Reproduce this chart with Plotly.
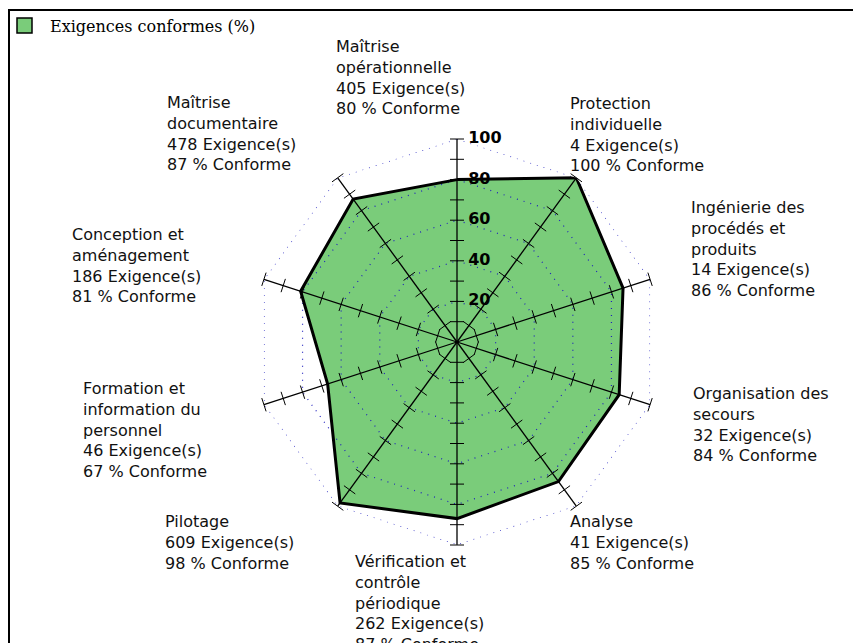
import plotly.graph_objects as go

# Données (sens horaire en partant du haut)
categories = [
    "Maîtrise opérationnelle",
    "Protection individuelle",
    "Ingénierie des procédés et produits",
    "Organisation des secours",
    "Analyse",
    "Vérification et contrôle périodique",
    "Pilotage",
    "Formation et information du personnel",
    "Conception et aménagement",
    "Maîtrise documentaire",
]
label_names = [
    "Maîtrise<br>opérationnelle",
    "Protection<br>individuelle",
    "Ingénierie des<br>procédés et<br>produits",
    "Organisation des<br>secours",
    "Analyse",
    "Vérification et<br>contrôle<br>périodique",
    "Pilotage",
    "Formation et<br>information du<br>personnel",
    "Conception et<br>aménagement",
    "Maîtrise<br>documentaire",
]
exigences = [405, 4, 14, 32, 41, 262, 609, 46, 186, 478]
conformes = [80, 100, 86, 84, 85, 87, 98, 67, 81, 87]
grid_levels = [20, 40, 60, 80, 100]
tick_levels = [10, 20, 30, 40, 50, 60, 70, 80, 90, 100]
series_name = "Exigences conformes (%)"

# position des étiquettes (px dans l'image : gauche, centre de la 1re ligne)
label_pos = [(334, 45), (568, 102), (689, 206), (691, 392), (568, 520),
             (353, 560), (163, 520), (81, 387), (70, 233), (165, 101)]

W, H = 861, 643
OFF = 8  # marge de la page html
GREEN = "rgb(122,204,122)"
GRID_BLUE = "rgb(30,30,190)"
FONT = "DejaVu Sans"


def px(x):
    return (x - OFF) / W


def py(y):
    return 1 - (y - OFF) / H


closed_theta = categories + categories[:1]
closed_r = conformes + conformes[:1]

fig = go.Figure()

# surface verte
fig.add_trace(go.Scatterpolar(r=closed_r, theta=closed_theta, mode="lines",
                              fill="toself", fillcolor=GREEN,
                              line=dict(width=0, color=GREEN),
                              showlegend=False, hoverinfo="skip"))

# grille en pointillés
for lvl in grid_levels:
    fig.add_trace(go.Scatterpolar(r=[lvl] * len(closed_theta), theta=closed_theta,
                                  mode="lines", line=dict(color=GRID_BLUE, width=1.2, dash="1px,6px"),
                                  showlegend=False, hoverinfo="skip"))

# axes + graduations
for i, cat in enumerate(categories):
    fig.add_trace(go.Scatterpolar(r=[0, 100], theta=[cat, cat], mode="lines",
                                  line=dict(color="black", width=1.3),
                                  showlegend=False, hoverinfo="skip"))
    fig.add_trace(go.Scatterpolar(r=tick_levels, theta=[cat] * len(tick_levels),
                                  mode="markers",
                                  marker=dict(symbol="line-ew", size=10, angle=i * 360 / len(categories),
                                              line=dict(color="black", width=1)),
                                  showlegend=False, hoverinfo="skip"))

# contour
fig.add_trace(go.Scatterpolar(r=closed_r, theta=closed_theta, mode="lines",
                              line=dict(color="black", width=3),
                              showlegend=False, hoverinfo="skip"))

# valeurs de l'axe radial
fig.add_trace(go.Scatterpolar(r=grid_levels, theta=[categories[0]] * len(grid_levels),
                              mode="text", text=["  " + str(v) for v in grid_levels],
                              textposition="middle right",
                              textfont=dict(family=FONT, size=16, color="black", weight="bold"),
                              showlegend=False, hoverinfo="skip"))

cx, cy, rad = 457 - OFF, 342 - OFF, 203
fig.update_layout(
    width=W, height=H,
    margin=dict(l=0, r=0, t=0, b=0),
    paper_bgcolor="white",
    polar=dict(
        domain=dict(x=[(cx - rad) / W, (cx + rad) / W],
                    y=[(H - cy - rad) / H, (H - cy + rad) / H]),
        bgcolor="rgba(0,0,0,0)",
        gridshape="linear",
        radialaxis=dict(range=[0, 100], showgrid=False, showline=False,
                        showticklabels=False, ticks=""),
        angularaxis=dict(rotation=90, direction="clockwise", showgrid=False,
                         showline=False, showticklabels=False, ticks=""),
    ),
)

annotations = []
for name, n, pct, (lx, ly) in zip(label_names, exigences, conformes, label_pos):
    annotations.append(dict(
        text=f"{name}<br>{n} Exigence(s)<br>{pct} % Conforme",
        x=px(lx), y=py(ly - 10), xref="paper", yref="paper",
        xanchor="left", yanchor="top", align="left", showarrow=False,
        font=dict(family=FONT, size=16, color="#111111"),
    ))
# légende
annotations.append(dict(text=series_name, x=px(48), y=py(26), xref="paper", yref="paper",
                        xanchor="left", yanchor="middle", showarrow=False,
                        font=dict(family="DejaVu Serif", size=16, color="black")))
fig.update_layout(annotations=annotations)

fig.update_layout(shapes=[
    dict(type="rect", xref="paper", yref="paper", x0=px(9), x1=px(857), y0=-0.1, y1=py(10),
         line=dict(color="black", width=2), fillcolor="rgba(0,0,0,0)"),
    dict(type="rect", xref="paper", yref="paper", x0=px(17), x1=px(32), y0=py(33), y1=py(18),
         line=dict(color="black", width=1.5), fillcolor=GREEN),
])

fig.write_html("out.html")
